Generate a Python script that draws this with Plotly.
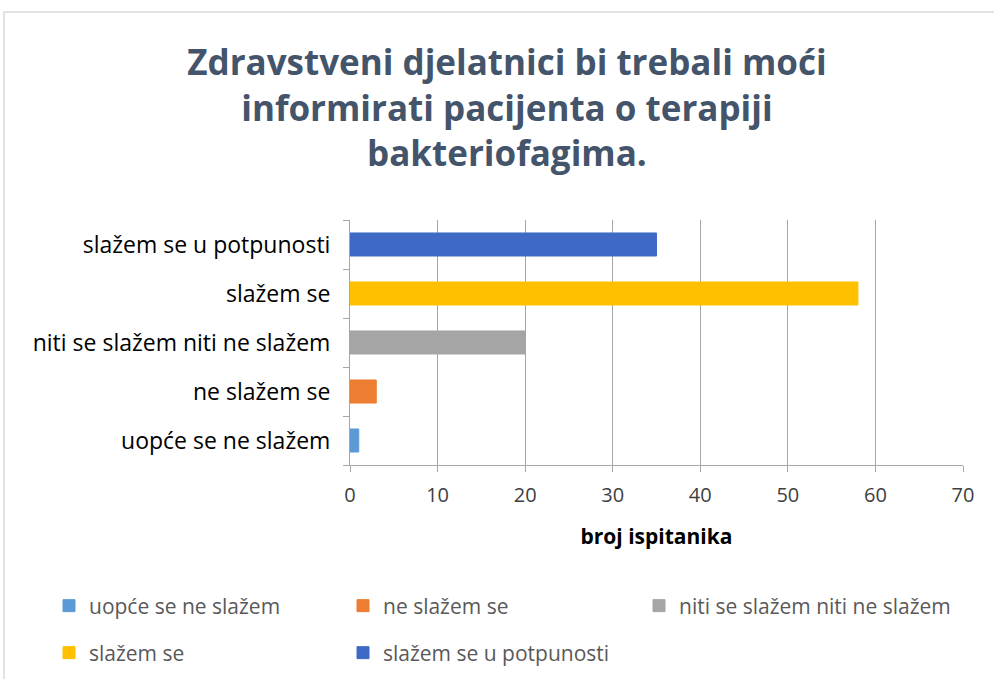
import plotly.graph_objects as go

categories = ["uopće se ne slažem", "ne slažem se", "niti se slažem niti ne slažem",
              "slažem se", "slažem se u potpunosti"]
values = [1, 3, 20, 58, 35]
colors = ["#5B9BD5", "#ED7D31", "#A5A5A5", "#FFC000", "#3E6AC6"]
legend_slots = ["legend", "legend", "legend3", "legend2", "legend2"]
x_ticks = [0, 10, 20, 30, 40, 50, 60, 70]

FONT = "Open Sans"
fig = go.Figure()
for cat, val, col, lg in zip(categories, values, colors, legend_slots):
    fig.add_trace(go.Bar(
        y=[cat], x=[val], name=cat, orientation="h",
        marker=dict(color=col, line=dict(color=col, width=1)),
        width=0.47, hoverinfo="x+y", legend=lg,
    ))

W, H = 994, 679
L, R, T, B = 350, 31, 220, 214
pw, ph = W - L - R, H - T - B

def px2x(px):
    return (px - L) / pw

def py2y(py):
    return (H - B - py) / ph

legend_common = dict(
    orientation="h", xref="paper", yref="paper",
    xanchor="left", yanchor="middle",
    entrywidth=249, entrywidthmode="pixels",
    font=dict(family=FONT, size=21, color="#595959"),
    itemwidth=30, traceorder="normal", bgcolor="rgba(0,0,0,0)",
)

fig.update_layout(
    width=W, height=H,
    margin=dict(l=L, r=R, t=T, b=B, autoexpand=False),
    paper_bgcolor="white", plot_bgcolor="white",
    barmode="overlay",
    font=dict(family=FONT, color="#404040"),
    title=dict(
        text="Zdravstveni djelatnici bi trebali moći<br>informirati pacijenta o terapiji<br>bakteriofagima.",
        x=0.51, xanchor="center", xref="container",
        y=1 - 75 / H, yanchor="top", yref="container",
        font=dict(family=FONT, size=35, color="#44546A", weight="bold"),
    ),
    xaxis=dict(
        range=[0, 70], tickvals=x_ticks, ticktext=[str(v) for v in x_ticks],
        showgrid=True, gridcolor="#A6A6A6", gridwidth=1,
        showline=True, linecolor="#A6A6A6", linewidth=1,
        ticks="outside", ticklen=6, tickcolor="#A6A6A6",
        tickfont=dict(family=FONT, size=20, color="#404040"),
        ticklabelstandoff=6,
        zeroline=False,
        title=dict(text="<b>broj ispitanika</b>", standoff=22,
                   font=dict(family=FONT, size=21, color="#000000")),
        fixedrange=True,
    ),
    yaxis=dict(
        categoryorder="array", categoryarray=categories,
        showline=True, linecolor="#A6A6A6", linewidth=1,
        ticks="outside", ticklen=6, tickcolor="#A6A6A6", tickson="boundaries",
        tickfont=dict(family=FONT, size=23, color="#000000"),
        ticklabelstandoff=14,
        showgrid=False, fixedrange=True,
    ),
    legend=dict(legend_common, x=px2x(49), y=py2y(606)),
    legend3=dict(legend_common, x=px2x(49 + 2 * 295), y=py2y(606), entrywidth=None,
                 entrywidthmode=None),
    legend2=dict(legend_common, x=px2x(49), y=py2y(653)),
    showlegend=True,
    shapes=[dict(
        type="rect", xref="paper", yref="paper",
        x0=px2x(4), x1=px2x(1000), y0=py2y(700), y1=py2y(12),
        line=dict(color="#D9D9D9", width=1.5), fillcolor="rgba(0,0,0,0)",
        layer="below",
    )],
)

fig.write_html("out.html", config={"displayModeBar": False},
               post_script="document.body.style.margin='0';document.body.style.overflow='hidden';")
